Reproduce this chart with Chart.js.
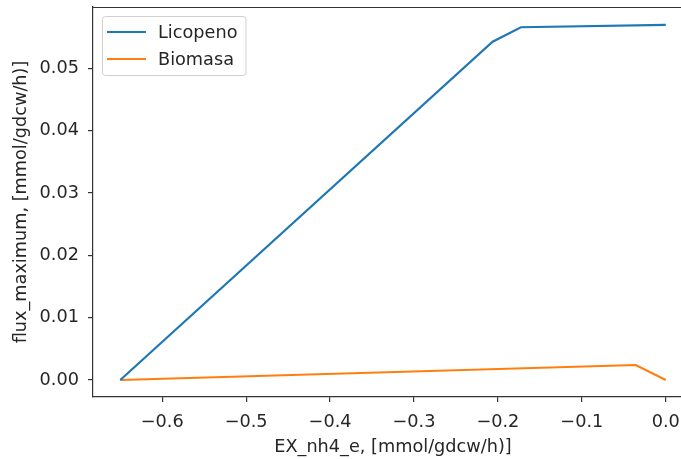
<!DOCTYPE html>
<html>
<head>
<meta charset="utf-8">
<script src="https://cdn.jsdelivr.net/npm/chart.js@4/dist/chart.umd.min.js"></script>
<style>
  html, body { margin: 0; padding: 0; background: #fff; overflow: hidden; }
  #wrap { width: 681px; height: 459px; overflow: hidden; }
</style>
</head>
<body>
<div id="wrap"><canvas id="chart" width="693" height="459"></canvas></div>
<script>
// EX_nh4_e bound vs maximum flux
const licopenoX = [-0.65, -0.2063, -0.1726, 0.0]
const licopenoY = [0.0, 0.05427, 0.05658, 0.05695]
const biomasaX = [-0.65, -0.0357, 0.0]
const biomasaY = [0.0, 0.0024, 0.0]
const seriesLabels = ['Licopeno', 'Biomasa']
const xTicks = [-0.6, -0.5, -0.4, -0.3, -0.2, -0.1, 0.0]
const yTicks = [0.0, 0.01, 0.02, 0.03, 0.04, 0.05]

const FONT = 'DejaVu Sans'
const SIZE = 17.7
const INK = '#262626'
const SPINE = '#333333'

function toPoints(xs, ys) {
  return xs.map((x, i) => ({ x: x, y: ys[i] }))
}

function fmt(v, digits) {
  if (Math.abs(v) < 1e-9) v = 0
  return v.toFixed(digits).replace('-', '\u2212')
}

// top spine + legend box in the upper left corner of the axes
const framePlugin = {
  id: 'frame',
  afterDraw(chart) {
    const ctx = chart.ctx
    const area = chart.chartArea
    ctx.save()
    ctx.strokeStyle = SPINE
    ctx.lineWidth = 1.2
    ctx.beginPath()
    ctx.moveTo(area.left, area.top + 0.5)
    ctx.lineTo(area.right, area.top + 0.5)
    ctx.stroke()

    const sets = chart.data.datasets
    ctx.font = SIZE + 'px "' + FONT + '"'
    let textW = 0
    sets.forEach(ds => { textW = Math.max(textW, ctx.measureText(ds.label).width) })
    const bx = area.left + 9
    const by = area.top + 9
    const bw = 5 + 39 + 12 + textW + 8
    const bh = 59
    ctx.beginPath()
    ctx.roundRect(bx + 0.5, by + 0.5, bw, bh, 3)
    ctx.fillStyle = 'rgba(255,255,255,0.8)'
    ctx.fill()
    ctx.strokeStyle = '#d0d0d0'
    ctx.lineWidth = 1
    ctx.stroke()

    sets.forEach((ds, i) => {
      const y = by + 16 + i * 27
      ctx.strokeStyle = ds.borderColor
      ctx.lineWidth = 2.2
      ctx.beginPath()
      ctx.moveTo(bx + 5, y)
      ctx.lineTo(bx + 44, y)
      ctx.stroke()
      ctx.fillStyle = INK
      ctx.textAlign = 'left'
      ctx.textBaseline = 'middle'
      ctx.fillText(ds.label, bx + 56, y + 1)
    })
    ctx.restore()
  }
}

const config = {
  type: 'scatter',
  data: {
    datasets: [
      {
        label: seriesLabels[0],
        data: toPoints(licopenoX, licopenoY),
        showLine: true,
        borderColor: '#1f77b4',
        backgroundColor: '#1f77b4',
        borderWidth: 2.2,
        pointRadius: 0
      },
      {
        label: seriesLabels[1],
        data: toPoints(biomasaX, biomasaY),
        showLine: true,
        borderColor: '#ff7f0e',
        backgroundColor: '#ff7f0e',
        borderWidth: 2.2,
        pointRadius: 0
      }
    ]
  },
  options: {
    responsive: false,
    animation: false,
    layout: { padding: { top: 7, right: 0, left: 0, bottom: 0 } },
    plugins: {
      legend: { display: false },
      tooltip: { enabled: false }
    },
    scales: {
      x: {
        type: 'linear',
        min: -0.6825,
        max: 0.0325,
        afterFit: scale => {
          scale.height = 62
          scale.paddingLeft = 0
          scale.paddingRight = 0
        },
        afterBuildTicks: scale => { scale.ticks = xTicks.map(v => ({ value: v })) },
        border: { display: true, color: SPINE, width: 1.2 },
        grid: {
          display: true,
          drawOnChartArea: false,
          drawTicks: true,
          tickLength: 5,
          color: SPINE,
          lineWidth: 1.2
        },
        ticks: {
          color: INK,
          padding: 10,
          maxRotation: 0,
          font: { family: FONT, size: SIZE },
          callback: v => fmt(v, 1)
        },
        title: {
          display: true,
          text: 'EX_nh4_e, [mmol/gdcw/h)]',
          color: INK,
          font: { family: FONT, size: SIZE },
          padding: { top: 0, bottom: 1 }
        }
      },
      y: {
        type: 'linear',
        min: -0.00273,
        max: 0.05983,
        afterFit: scale => {
          scale.width = 93
          scale.paddingTop = 0
          scale.paddingBottom = 0
        },
        afterBuildTicks: scale => { scale.ticks = yTicks.map(v => ({ value: v })) },
        border: { display: true, color: SPINE, width: 1.2 },
        grid: {
          display: true,
          drawOnChartArea: false,
          drawTicks: true,
          tickLength: 5,
          color: SPINE,
          lineWidth: 1.2
        },
        ticks: {
          color: INK,
          padding: 9,
          font: { family: FONT, size: SIZE },
          callback: v => fmt(v, 2)
        },
        title: {
          display: true,
          text: 'flux_maximum, [mmol/gdcw/h)]',
          color: INK,
          font: { family: FONT, size: SIZE },
          padding: { top: 11, bottom: 0 }
        }
      }
    }
  },
  plugins: [framePlugin]
}

const ctx = document.getElementById('chart').getContext('2d')
new Chart(ctx, config)
</script>
</body>
</html>
